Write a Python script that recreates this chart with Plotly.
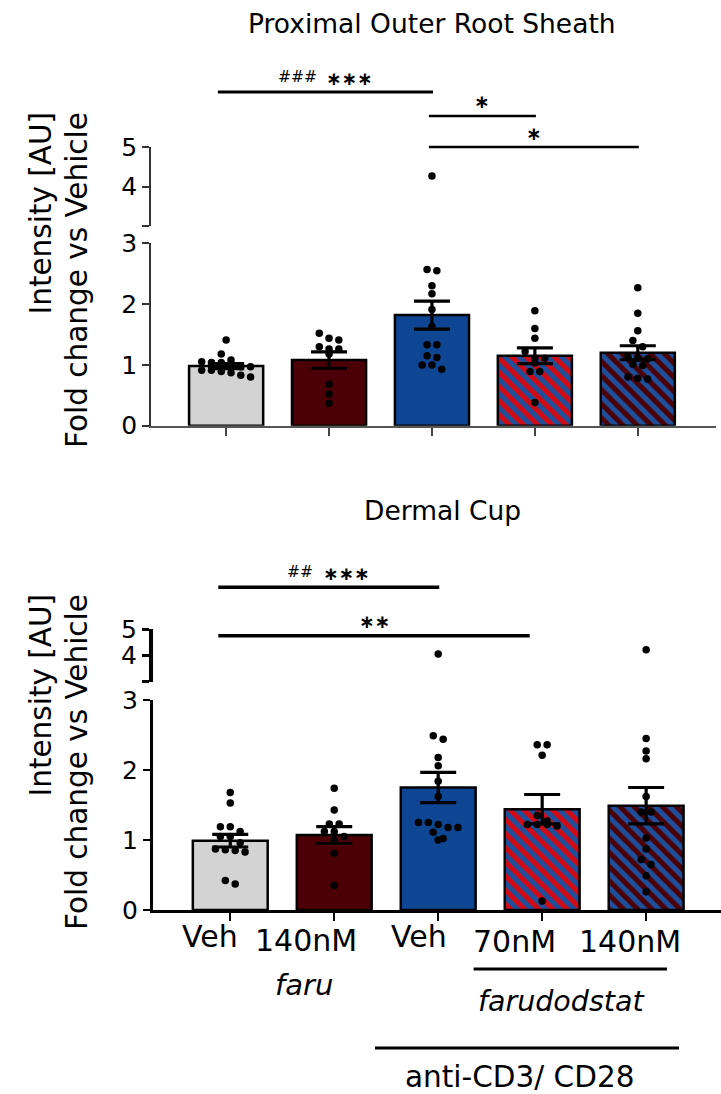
import plotly.graph_objects as go

W, H = 721, 1094

# ---------------- data ----------------
groups = ["Veh", "140nM", "Veh", "70nM", "140nM"]

# Proximal Outer Root Sheath: individual follicles (fold change vs vehicle)
pors_veh = [1.41, 1.18, 1.08, 1.05, 1.04, 1.04, 1.00, 0.97, 0.97, 0.91, 0.91, 0.89, 0.87, 0.83, 0.80]
pors_faru140 = [1.52, 1.44, 1.41, 1.30, 1.26, 1.26, 1.18, 0.68, 0.52, 0.37]
pors_cd3_veh = [4.27, 2.57, 2.55, 2.30, 2.17, 1.91, 1.63, 1.33, 1.33, 1.15, 1.12, 1.00, 1.00, 0.93]
pors_cd3_far70 = [1.89, 1.60, 1.44, 1.22, 1.11, 1.11, 1.03, 0.89, 0.89, 0.38]
pors_cd3_far140 = [2.27, 1.85, 1.56, 1.40, 1.30, 1.13, 1.11, 1.10, 1.01, 0.99, 0.80, 0.78, 0.77]
pors_mean = [0.98, 1.08, 1.82, 1.15, 1.20]
pors_sem = [0.04, 0.135, 0.23, 0.13, 0.115]

# Dermal Cup
dc_veh = [1.68, 1.53, 1.19, 1.19, 1.12, 1.05, 1.05, 0.96, 0.87, 0.86, 0.85, 0.83, 0.42, 0.37]
dc_faru140 = [1.74, 1.43, 1.23, 1.23, 1.12, 1.12, 1.05, 1.00, 0.81, 0.35]
dc_cd3_veh = [4.05, 2.49, 2.44, 2.18, 2.06, 1.84, 1.62, 1.25, 1.25, 1.22, 1.18, 1.18, 1.11, 1.02, 1.00]
dc_cd3_far70 = [2.36, 2.36, 2.21, 1.35, 1.27, 1.22, 1.22, 1.22, 1.20, 0.13]
dc_cd3_far140 = [4.21, 2.45, 2.27, 2.16, 1.62, 1.40, 1.40, 1.03, 0.87, 0.72, 0.65, 0.49, 0.26]
dc_mean = [0.99, 1.07, 1.75, 1.44, 1.49]
dc_sem = [0.09, 0.12, 0.215, 0.21, 0.26]

# significance brackets: (from group, to group, hash marks, stars)
pors_sig = [(0, 2, "###", "∗∗∗"), (2, 3, "", "∗"), (2, 4, "", "∗")]
dc_sig = [(0, 2, "##", "∗∗∗"), (0, 3, "", "∗∗")]

# ---------------- style ----------------
FONT = "DejaVu Sans"
GRAY, MAROON, BLUE, RED, STRIPE = "#d3d3d3", "#4b0007", "#0e4694", "#d20a14", "#1d4f9b"
fills = [GRAY, MAROON, BLUE, RED, MAROON]
hatched = [False, False, False, True, True]
BAR_W = 0.72


def px(x):
    return x / W


def py(y):
    return 1 - y / H


def swarm(vals, px_per_unit, dot_px=7.5, step=0.095):
    """Spread points horizontally when they would overlap vertically."""
    order = sorted(range(len(vals)), key=lambda k: -vals[k])
    offs = [0.0] * len(vals)
    rows = []
    for k in order:
        if rows and (vals[rows[-1][0]] - vals[k]) * px_per_unit < dot_px * 0.9:
            rows[-1].append(k)
        else:
            rows.append([k])
    for row in rows:
        n = len(row)
        for j, k in enumerate(row):
            offs[k] = (j - (n - 1) / 2) * step
    return offs


fig = go.Figure()


def add_panel(points, means, sems, xa, ya_lo, ya_hi, unit_px):
    for i, m in enumerate(means):
        marker = dict(color=fills[i], line=dict(color="black", width=2.5))
        if hatched[i]:
            marker["pattern"] = dict(shape="\\", fgcolor=STRIPE, bgcolor=fills[i],
                                     size=10, solidity=0.5, fillmode="replace")
        fig.add_trace(go.Bar(x=[i], y=[m], width=BAR_W, marker=marker,
                             xaxis=xa, yaxis=ya_lo, hoverinfo="skip"))
    for i, vals in enumerate(points):
        offs = swarm(vals, unit_px)
        lo = [(i + o, v) for o, v in zip(offs, vals) if v <= 3]
        hi = [(i, v) for v in vals if v > 3]
        for pts, ya in ((lo, ya_lo), (hi, ya_hi)):
            if pts:
                fig.add_trace(go.Scatter(
                    x=[p[0] for p in pts], y=[p[1] for p in pts], mode="markers",
                    marker=dict(color="black", size=7.5), xaxis=xa, yaxis=ya,
                    hoverinfo="skip"))
    fig.add_trace(go.Scatter(
        x=list(range(len(means))), y=means, mode="markers",
        marker=dict(size=1, color="rgba(0,0,0,0)"),
        error_y=dict(type="data", array=sems, visible=True, color="black",
                     thickness=3.2, width=18),
        xaxis=xa, yaxis=ya_lo, hoverinfo="skip"))


add_panel([pors_veh, pors_faru140, pors_cd3_veh, pors_cd3_far70, pors_cd3_far140],
          pors_mean, pors_sem, "x", "y", "y2", 60.8)
add_panel([dc_veh, dc_faru140, dc_cd3_veh, dc_cd3_far70, dc_cd3_far140],
          dc_mean, dc_sem, "x2", "y3", "y4", 70.0)

tickfont = dict(family=FONT, size=25, color="black")
common_y = dict(showgrid=False, zeroline=False, showline=True, ticks="outside",
                ticklen=7, tickfont=tickfont, fixedrange=True, automargin=False)
common_x = dict(showgrid=False, zeroline=False, showline=True, ticks="outside",
                ticklen=8, tickvals=list(range(5)), showticklabels=False,
                automargin=False)

fig.update_layout(
    template="none",
    width=W, height=H, margin=dict(l=0, r=0, t=0, b=0, pad=0, autoexpand=False),
    paper_bgcolor="white", plot_bgcolor="white", showlegend=False,
    barmode="overlay", font=dict(family=FONT, color="black"),
    xaxis=dict(domain=[px(151), px(716)], range=[-0.73, 4.76], anchor="y",
               linecolor="#555", linewidth=2, tickcolor="#444", tickwidth=1.5, **common_x),
    yaxis=dict(domain=[py(425.7), py(243.3)], range=[0, 3], anchor="x",
               tickvals=[0, 1, 2, 3], linecolor="#333", linewidth=1.5,
               tickcolor="#333", tickwidth=1.5, **common_y),
    yaxis2=dict(domain=[py(225.7), py(147.3)], range=[3, 5], anchor="x",
                tickvals=[3, 4, 5], ticktext=["", "4", "5"], linecolor="#333",
                linewidth=1.5, tickcolor="#333", tickwidth=1.5, **common_y),
    xaxis2=dict(domain=[px(152.7), 1.0], range=[-0.746, 4.72], anchor="y3",
                linecolor="black", linewidth=2.5, tickcolor="black", tickwidth=2, **common_x),
    yaxis3=dict(domain=[py(910), py(700)], range=[0, 3], anchor="x2",
                tickvals=[0, 1, 2, 3], linecolor="black", linewidth=2.5,
                tickcolor="black", tickwidth=2, **common_y),
    yaxis4=dict(domain=[py(681.7), py(629)], range=[3, 5], anchor="x2",
                tickvals=[3, 4, 5], ticktext=["", "4", "5"], linecolor="black",
                linewidth=3.5, tickcolor="black", tickwidth=3, **common_y),
)

ann = []
shapes = []


def text(x, y, s, size, xref="paper", xanchor="center", yanchor="middle", **kw):
    ann.append(dict(x=x, y=y, xref=xref, yref="paper", text=s, showarrow=False,
                    xanchor=xanchor, yanchor=yanchor,
                    font=dict(family=FONT, size=size, color="black"), **kw))


# titles
text(px(432), py(23), "Proximal Outer Root Sheath", 26.5)
text(px(443), py(511), "Dermal Cup", 26.5)

# y-axis titles (two lines, end-aligned)
for top in (110, 592):
    text(px(40), py(top), "Intensity [AU]", 29.5, textangle=-90, yanchor="top")
    text(px(77), py(top), "Fold change vs Vehicle", 29.5, textangle=-90, yanchor="top")

# significance brackets
sig_style = {
    "pors": dict(xref="x", lines=[92, 116, 147], texts=[78, 101, 133], lw=[3, 2.5, 2.5],
                 hash_shift=-6, star_shift=-1),
    "dc": dict(xref="x2", lines=[587.3, 635.7], texts=[573, 621], lw=[3.5, 3.5],
               hash_shift=-14, star_shift=-8),
}
for key, sig in (("pors", pors_sig), ("dc", dc_sig)):
    st = sig_style[key]
    for j, (a, b, hashes, stars) in enumerate(sig):
        x0, x1 = a - 0.08, b + 0.01
        if j > 0 and key == "pors":
            x0 = a - 0.03
        if key == "dc":
            x0 = a - 0.115
            if j == 1:
                x1 = b - 0.12
        yl = py(st["lines"][j])
        shapes.append(dict(type="line", xref=st["xref"], yref="paper", x0=x0, x1=x1,
                           y0=yl, y1=yl, line=dict(color="black", width=st["lw"][j])))
        mid = (x0 + x1) / 2
        if hashes:
            text(mid, py(st["texts"][j] - 1), hashes, 15.5, xref=st["xref"],
                 xanchor="right", xshift=st["hash_shift"])
            text(mid, py(st["texts"][j]), "<b>" + stars + "</b>", 18.5, xref=st["xref"],
                 xanchor="left", xshift=st["star_shift"])
        else:
            text(mid, py(st["texts"][j]), "<b>" + stars + "</b>", 18.5, xref=st["xref"])

# category labels under the lower panel
label_shift = [-20, -28, -19, -28, -16]
label_y = [936, 940, 936, 941, 941]
for i, g in enumerate(groups):
    text(i, py(label_y[i]), g, 30, xref="x2", xshift=label_shift[i])

text(px(304), py(985), "<i>faru</i>", 29)
text(px(561), py(1001), "<i>farudodstat</i>", 28.5)
text(px(519), py(1077), "anti-CD3/ CD28", 29.5)
shapes.append(dict(type="line", xref="paper", yref="paper", x0=px(473.6), x1=px(667),
                   y0=py(969), y1=py(969), line=dict(color="black", width=3)))
shapes.append(dict(type="line", xref="paper", yref="paper", x0=px(375), x1=px(679),
                   y0=py(1048), y1=py(1048), line=dict(color="black", width=3)))

fig.update_layout(annotations=ann, shapes=shapes)
fig.write_html("out.html")
